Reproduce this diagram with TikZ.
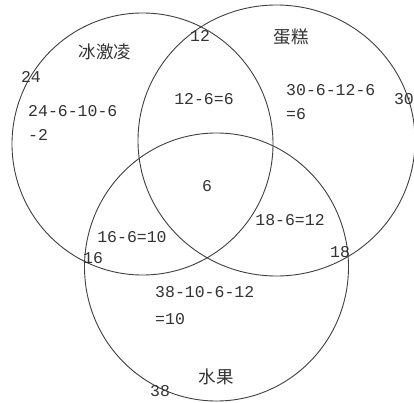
\documentclass[tikz,border=0pt]{standalone}
\usepackage{fontspec}
\newfontfamily\cjk{Noto Sans CJK SC}
\newfontfamily\numfont{Liberation Mono}
\usetikzlibrary{positioning}

\tikzset{
  ring/.style={draw=black!75, line width=0.9pt},
  num/.style={font=\numfont\fontsize{16.5}{20}\selectfont, text=black!80, inner sep=0pt},
  word/.style={font=\cjk\fontsize{17.5}{20}\selectfont, text=black!80, inner sep=0pt}
}

\begin{document}
\begin{tikzpicture}[x=1pt, y=-1pt]

        % ==========================================
        % CORNICE
        % ==========================================
        \clip (0,0) rectangle (414,403);
        \fill[white] (0,0) rectangle (414,403);

        % ==========================================
        % CERCHI
        % ==========================================

        % cerchio sinistro (冰激凌)
        \coordinate (cBing) at (142.5,144);
        \draw[ring] (cBing) ellipse [x radius=130.5, y radius=131];

        % cerchio destro (蛋糕)
        \coordinate (cDan) at (276.5,140.5);
        \draw[ring] (cDan) ellipse [x radius=138.5, y radius=135.5];

        % cerchio in basso (水果)
        \coordinate (cShui) at (216.5,267);
        \draw[ring] (cShui) ellipse [x radius=132, y radius=134];

        % ==========================================
        % NOMI DEGLI INSIEMI
        % ==========================================
        \node[word] (tBing) at (105,52) {冰激凌};
        \node[word] (tDan) at (291,37) {蛋糕};
        \node[word] (tShui) at (216,377) {水果};

        % totali sul bordo
        \node[num] (nBing) at (31,77) {24};
        \node[num] (nBD) at (200,36) {12};
        \node[num, anchor=east] (nDan) at (414,99) {30};
        \node[num] (nBS) at (93,258) {16};
        \node[num] (nDS) at (340,252) {18};
        \node[num] (nShui) at (160,391) {38};

        % ==========================================
        % CALCOLI NELLE REGIONI
        % ==========================================
        \node[num, anchor=west] (rBing) at (28,111) {24-6-10-6};
        \node[num, anchor=west] (rBingB) at (28,135) {-2};
        \node[num] (rBD) at (204,99) {12-6=6};
        \node[num, anchor=west] (rDan) at (286,90) {30-6-12-6};
        \node[num, anchor=west] (rDanB) at (286,114) {=6};
        \node[num] (rAll) at (207,186) {6};
        \node[num] (rBS) at (132,237) {16-6=10};
        \node[num] (rDS) at (290,220) {18-6=12};
        \node[num, anchor=west] (rShui) at (155,292) {38-10-6-12};
        \node[num, anchor=west] (rShuiB) at (155,319) {=10};

    \end{tikzpicture}
\end{document}
